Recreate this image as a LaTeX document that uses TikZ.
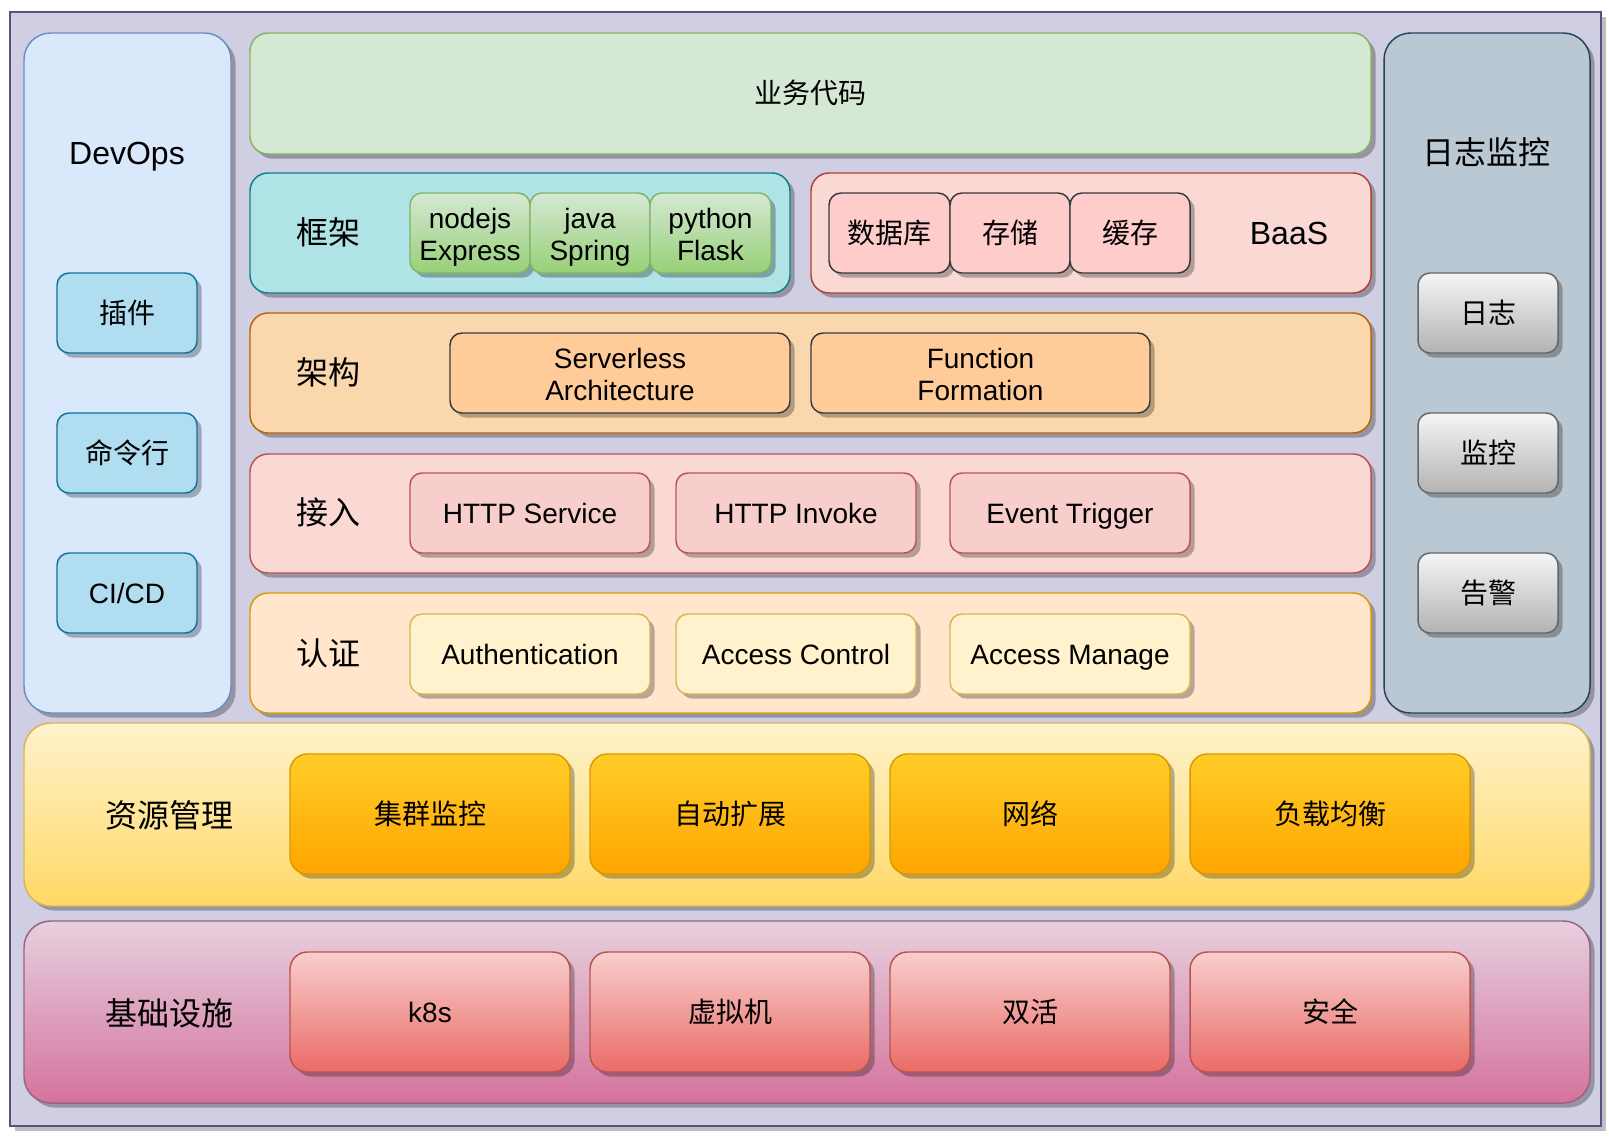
\documentclass[tikz,border=0pt]{standalone}
\usepackage{fontspec}
\setmainfont{Liberation Sans}
\newfontfamily\cjk{Noto Sans CJK SC}
\usetikzlibrary{shadows}
\definecolor{frameF}{HTML}{D0CEE2}\definecolor{frameD}{HTML}{56517E}
\definecolor{devF}{HTML}{DAE8FC}\definecolor{devD}{HTML}{6C8EBF}
\definecolor{logF}{HTML}{BAC8D3}\definecolor{logD}{HTML}{23445D}
\definecolor{bizF}{HTML}{D5E8D4}\definecolor{bizD}{HTML}{82B366}
\definecolor{fwF}{HTML}{B0E3E6}\definecolor{fwD}{HTML}{0E8088}
\definecolor{baasF}{HTML}{FAD9D5}\definecolor{baasD}{HTML}{AE4132}
\definecolor{archF}{HTML}{FAD7AC}\definecolor{archD}{HTML}{B46504}
\definecolor{accF}{HTML}{FAD9D5}\definecolor{accD}{HTML}{B85450}
\definecolor{authF}{HTML}{FFE6CC}\definecolor{authD}{HTML}{D79B00}
\definecolor{resT}{HTML}{FFF2CC}\definecolor{resB}{HTML}{FFD966}\definecolor{resD}{HTML}{D6B656}
\definecolor{infT}{HTML}{E6D0DE}\definecolor{infB}{HTML}{D5739D}\definecolor{infD}{HTML}{996185}
\definecolor{grT}{HTML}{D5E8D4}\definecolor{grB}{HTML}{97D077}
\definecolor{blF}{HTML}{B1DDF0}\definecolor{blD}{HTML}{10739E}
\definecolor{gyT}{HTML}{F5F5F5}\definecolor{gyB}{HTML}{B3B3B3}\definecolor{gyD}{HTML}{666666}
\definecolor{pkF}{HTML}{FFCCCC}\definecolor{dkD}{HTML}{36393D}
\definecolor{orF}{HTML}{FFCC99}
\definecolor{rdF}{HTML}{F8CECC}
\definecolor{ylF}{HTML}{FFF2CC}
\definecolor{oT}{HTML}{FFCD28}\definecolor{oB}{HTML}{FFA500}
\definecolor{rT}{HTML}{F8CECC}\definecolor{rB}{HTML}{EA6B66}
\newcommand\mystrut{\vrule width 0pt height 0.95em depth 0.21em\relax}
\newcommand\ts{\vrule width 0pt height 21pt depth 0pt\relax}
\newcommand\mybox[7]{%
  \pgfmathsetmacro\mbw{(#4-#2)*0.75}%
  \pgfmathsetmacro\mbh{(#5-#3)*0.75}%
  \node[#6,minimum width=\mbw pt,minimum height=\mbh pt] (#1) at ({(#2+#4)/2},{(#3+#5)/2}) {#7};}
\tikzset{
  shd/.style={drop shadow={shadow xshift=3.5pt,shadow yshift=-3.5pt,opacity=0.28,fill=black}},
  struts/.style={execute at begin node=\mystrut,execute at end node=\mystrut},
  bx/.style={draw,line width=1.1pt,inner sep=0pt,outer sep=0pt,align=center,shd,struts,font=\fontsize{21}{24}\selectfont},
  big/.style={font=\fontsize{24}{28}\selectfont},
  cj/.style={font=\cjk\fontsize{21}{24}\selectfont},
  cjbig/.style={font=\cjk\fontsize{24}{28}\selectfont},
  col/.style={bx,rounded corners=20pt},
  band/.style={bx,rounded corners=13.5pt},
  wide/.style={bx,rounded corners=20pt},
  sm/.style={bx,rounded corners=9pt},
  mid/.style={bx,rounded corners=13pt},
  lbl/.style={inner sep=0pt,outer sep=0pt,align=center,struts},
  framebox/.style={draw=frameD,fill=frameF,line width=1.5pt,inner sep=0pt,outer sep=0pt,
     drop shadow={shadow xshift=4pt,shadow yshift=-4pt,opacity=1,fill=black!25}}
}
\begin{document}
\begin{tikzpicture}[x=0.75pt,y=-0.75pt]
\useasboundingbox (0,0) rectangle (1609,1139);
\mybox{frame}{10}{12}{1601}{1126}{framebox}{}
% columns
\mybox{devops}{24}{33}{231}{713}{col,fill=devF,draw=devD}{}
\mybox{logmon}{1384}{33}{1590}{713}{col,fill=logF,draw=logD}{}
\node[lbl,big] (devopsL) at (127,153) {DevOps};
\node[lbl,cjbig] (logmonL) at (1486,153) {日志监控};
% bands
\mybox{biz}{250}{33}{1371}{154}{band,fill=bizF,draw=bizD,cj}{业务代码}
\mybox{fw}{250}{173}{790}{293}{band,fill=fwF,draw=fwD}{}
\mybox{baas}{811}{173}{1371}{293}{band,fill=baasF,draw=baasD}{}
\mybox{arch}{250}{313}{1371}{433}{band,fill=archF,draw=archD}{}
\mybox{acc}{250}{454}{1371}{573}{band,fill=accF,draw=accD}{}
\mybox{auth}{250}{593}{1371}{713}{band,fill=authF,draw=authD}{}
\mybox{res}{24}{723}{1590}{906}{wide,top color=resT,bottom color=resB,draw=resD}{}
\mybox{inf}{24}{921}{1590}{1103}{wide,top color=infT,bottom color=infB,draw=infD}{}
\node[lbl,cjbig] (fwL) at (328,233) {框架};
\node[lbl,big] (baasL) at (1289,233) {BaaS};
\node[lbl,cjbig] (archL) at (328,373) {架构};
\node[lbl,cjbig] (accL) at (328,513) {接入};
\node[lbl,cjbig] (authL) at (328,654) {认证};
\node[lbl,cjbig] (resL) at (169,816) {资源管理};
\node[lbl,cjbig] (infL) at (169,1014) {基础设施};
% devops items
\mybox{plug}{57}{273}{197}{353}{sm,fill=blF,draw=blD,cj}{插件}
\mybox{cli}{57}{413}{197}{493}{sm,fill=blF,draw=blD,cj}{命令行}
\mybox{cicd}{57}{553}{197}{633}{sm,fill=blF,draw=blD}{CI/CD}
% log items
\mybox{log}{1418}{273}{1558}{353}{sm,top color=gyT,bottom color=gyB,draw=gyD,cj}{日志}
\mybox{mon}{1418}{413}{1558}{493}{sm,top color=gyT,bottom color=gyB,draw=gyD,cj}{监控}
\mybox{alarm}{1418}{553}{1558}{633}{sm,top color=gyT,bottom color=gyB,draw=gyD,cj}{告警}
% frameworks
\mybox{node}{410}{193}{530}{273}{sm,top color=grT,bottom color=grB,draw=bizD}{\ts nodejs\\Express}
\mybox{java}{530}{193}{650}{273}{sm,top color=grT,bottom color=grB,draw=bizD}{\ts java\\Spring}
\mybox{py}{650}{193}{771}{273}{sm,top color=grT,bottom color=grB,draw=bizD}{\ts python\\Flask}
% baas
\mybox{db}{829}{193}{950}{273}{sm,fill=pkF,draw=dkD,cj}{数据库}
\mybox{store}{950}{193}{1070}{273}{sm,fill=pkF,draw=dkD,cj}{存储}
\mybox{cache}{1070}{193}{1190}{273}{sm,fill=pkF,draw=dkD,cj}{缓存}
% arch
\mybox{sa}{450}{333}{790}{413}{sm,fill=orF,draw=dkD}{\ts Serverless\\Architecture}
\mybox{ff}{811}{333}{1150}{413}{sm,fill=orF,draw=dkD}{\ts Function\\Formation}
% access
\mybox{hs}{410}{473}{650}{553}{sm,fill=rdF,draw=accD}{HTTP Service}
\mybox{hi}{676}{473}{916}{553}{sm,fill=rdF,draw=accD}{HTTP Invoke}
\mybox{et}{950}{473}{1190}{553}{sm,fill=rdF,draw=accD}{Event Trigger}
% auth
\mybox{au}{410}{614}{650}{694}{sm,fill=ylF,draw=resD}{Authentication}
\mybox{ac}{676}{614}{916}{694}{sm,fill=ylF,draw=resD}{Access Control}
\mybox{am}{950}{614}{1190}{694}{sm,fill=ylF,draw=resD}{Access Manage}
% resources
\mybox{r1}{290}{754}{570}{874}{mid,top color=oT,bottom color=oB,draw=authD,cj}{集群监控}
\mybox{r2}{590}{754}{870}{874}{mid,top color=oT,bottom color=oB,draw=authD,cj}{自动扩展}
\mybox{r3}{890}{754}{1170}{874}{mid,top color=oT,bottom color=oB,draw=authD,cj}{网络}
\mybox{r4}{1190}{754}{1470}{874}{mid,top color=oT,bottom color=oB,draw=authD,cj}{负载均衡}
% infra
\mybox{i1}{290}{952}{570}{1072}{mid,top color=rT,bottom color=rB,draw=accD}{k8s}
\mybox{i2}{590}{952}{870}{1072}{mid,top color=rT,bottom color=rB,draw=accD,cj}{虚拟机}
\mybox{i3}{890}{952}{1170}{1072}{mid,top color=rT,bottom color=rB,draw=accD,cj}{双活}
\mybox{i4}{1190}{952}{1470}{1072}{mid,top color=rT,bottom color=rB,draw=accD,cj}{安全}
\end{tikzpicture}
\end{document}
